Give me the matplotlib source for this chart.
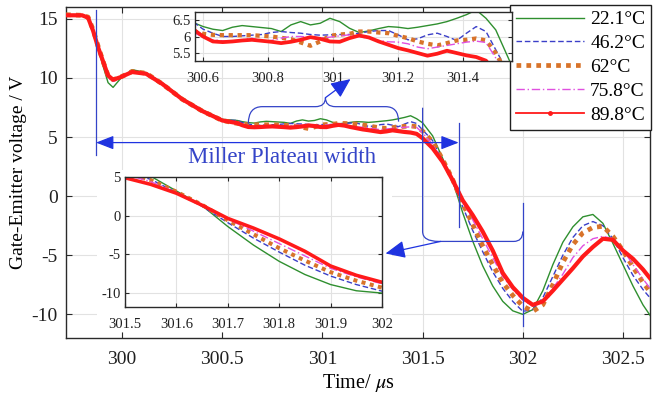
import matplotlib
matplotlib.use("Agg")
import matplotlib.pyplot as plt
from matplotlib.lines import Line2D
from matplotlib.patches import Rectangle, FancyArrowPatch, PathPatch
from matplotlib.path import Path

plt.rcParams['font.family'] = ['Liberation Serif', 'DejaVu Serif']
plt.rcParams['mathtext.fontset'] = 'stix'
plt.rcParams['axes.unicode_minus'] = False

# ---------------- data ----------------
time_us = [299.72, 299.80, 299.83, 299.855, 299.88, 299.905, 299.93, 299.955, 299.99, 300.05,
           300.12, 300.2, 300.3, 300.4, 300.5, 300.575, 300.6, 300.63, 300.66, 300.69,
           300.72, 300.75, 300.78, 300.81, 300.84, 300.87, 300.9, 300.93, 300.96, 300.99,
           301.02, 301.05, 301.08, 301.11, 301.14, 301.17, 301.2, 301.23, 301.26, 301.29,
           301.32, 301.35, 301.38, 301.41, 301.44, 301.47, 301.5, 301.55, 301.6, 301.65,
           301.7, 301.75, 301.8, 301.85, 301.9, 301.95, 302.0, 302.05, 302.1, 302.15,
           302.2, 302.25, 302.3, 302.35, 302.4, 302.45, 302.5, 302.55, 302.6, 302.64]

vge_22_1 = [15.3, 15.3, 15.1, 14.0, 12.5, 11.0, 9.6, 9.2, 9.9, 10.7,
            10.45, 9.6, 8.3, 7.3, 6.5, 6.4, 6.3, 6.22, 6.18, 6.28,
            6.33, 6.3, 6.27, 6.24, 6.15, 6.35, 6.45, 6.35, 6.4, 6.55,
            6.45, 6.25, 6.12, 6.17, 6.24, 6.3, 6.28, 6.24, 6.28, 6.33,
            6.38, 6.45, 6.55, 6.66, 6.8, 6.55, 6.2, 5.1, 3.2, 1.3,
            -1.4, -3.8, -5.9, -7.6, -8.9, -9.7, -10.0, -9.6, -8.0, -5.8,
            -3.9, -2.6, -1.75, -1.55, -2.3, -4.0, -5.8, -7.6, -9.2, -10.2]

vge_46_2 = [15.3, 15.3, 15.1, 14.0, 12.6, 11.3, 10.1, 9.75, 10.0, 10.6,
            10.4, 9.55, 8.25, 7.25, 6.45, 6.4, 6.22, 6.1, 6.0, 6.0,
            6.02, 6.04, 6.06, 6.12, 6.15, 6.12, 6.1, 6.06, 6.04, 6.05,
            6.06, 6.06, 6.1, 6.15, 6.18, 6.18, 6.05, 5.9, 5.93, 6.05,
            6.1, 6.0, 5.88, 6.1, 6.3, 6.15, 5.6, 4.7, 3.0, 1.2,
            -0.9, -2.9, -4.7, -6.4, -7.8, -8.9, -9.75, -9.6, -8.6, -6.8,
            -5.0, -3.5, -2.5, -2.15, -2.5, -3.6, -5.2, -6.7, -7.9, -8.7]

vge_62 = [15.35, 15.3, 15.15, 14.1, 12.7, 11.4, 10.2, 9.85, 10.05, 10.55,
          10.4, 9.5, 8.2, 7.2, 6.4, 6.15, 6.08, 6.05, 6.04, 6.04,
          6.04, 6.04, 6.02, 6.0, 5.96, 5.92, 5.82, 5.72, 5.85, 6.02,
          6.06, 6.08, 6.15, 6.15, 6.12, 6.1, 6.02, 5.95, 5.85, 5.78,
          5.73, 5.8, 5.88, 5.9, 5.94, 5.88, 5.5, 4.6, 3.1, 1.4,
          -0.6, -2.4, -4.2, -5.8, -7.3, -8.4, -9.3, -9.75, -9.2, -7.5,
          -5.6, -4.1, -3.1, -2.65, -2.55, -3.4, -4.6, -6.0, -7.3, -8.2]

vge_75_8 = [15.3, 15.3, 15.1, 14.0, 12.6, 11.3, 10.0, 9.7, 10.0, 10.5,
            10.35, 9.5, 8.2, 7.2, 6.4, 6.1, 5.98, 5.9, 5.87, 5.85,
            5.9, 5.95, 5.86, 5.88, 5.95, 6.0, 6.0, 5.98, 5.96, 5.98,
            6.02, 6.05, 6.0, 5.94, 5.88, 5.84, 5.83, 5.78, 5.68, 5.63,
            5.68, 5.73, 5.78, 5.83, 5.86, 5.82, 5.35, 4.4, 3.0, 1.4,
            -0.45, -2.0, -3.6, -5.2, -6.8, -7.9, -8.8, -9.3, -9.0, -7.8,
            -6.6, -5.2, -4.2, -3.6, -3.4, -3.6, -4.5, -5.8, -7.0, -7.9]

vge_89_8 = [15.3, 15.3, 15.1, 14.0, 12.6, 11.4, 10.2, 9.85, 10.05, 10.5,
            10.35, 9.5, 8.2, 7.2, 6.4, 6.18, 6.0, 5.85, 5.83, 5.85,
            5.88, 5.9, 5.87, 5.84, 5.8, 5.84, 5.9, 5.98, 5.93, 5.85,
            5.84, 5.95, 6.03, 5.97, 5.85, 5.75, 5.65, 5.58, 5.5, 5.42,
            5.48, 5.57, 5.5, 5.43, 5.38, 5.27, 4.9, 4.05, 2.9, 1.35,
            -0.35, -1.6, -3.0, -4.6, -6.5, -7.7, -8.6, -9.2, -8.9, -8.0,
            -7.05, -6.1, -5.1, -4.3, -3.6, -3.7, -4.6, -5.3, -6.2, -7.05]

labels = ['22.1°C', '46.2°C', '62°C', '75.8°C', '89.8°C']
series = [vge_22_1, vge_46_2, vge_62, vge_75_8, vge_89_8]

main_xticks = [300, 300.5, 301, 301.5, 302, 302.5]
main_xticklabels = ['300', '300.5', '301', '301.5', '302', '302.5']
main_yticks = [-10, -5, 0, 5, 10, 15]
main_yticklabels = ['-10', '-5', '0', '5', '10', '15']

in1_xticks = [300.6, 300.8, 301, 301.2, 301.4]
in1_xticklabels = ['300.6', '300.8', '301', '301.2', '301.4']
in1_yticks = [5.5, 6, 6.5]
in1_yticklabels = ['5.5', '6', '6.5']

in2_xticks = [301.5, 301.6, 301.7, 301.8, 301.9, 302]
in2_xticklabels = ['301.5', '301.6', '301.7', '301.8', '301.9', '302']
in2_yticks = [-10, -5, 0, 5]
in2_yticklabels = ['-10', '-5', '0', '5']

# ---------------- styles ----------------
styles = [
    dict(color='#2f8f2f', lw=1.0, ls='-'),
    dict(color='#3b3fc8', lw=1.0, ls=(0, (4, 2))),
    dict(color='#d8732a', lw=3.4, ls=(0, (1, 1.1)), dash_capstyle='butt'),
    dict(color='#e050e0', lw=1.0, ls=(0, (6, 2, 1, 2))),
    dict(color='#ff1a1a', lw=3.0, ls='-'),
]
ANN = '#3444c8'
HEAD = '#1f33e0'

W, H = 658, 400
fig = plt.figure(figsize=(W / 100, H / 100), dpi=100)


def fpos(x0, y0, x1, y1):
    return [x0 / W, 1 - y1 / H, (x1 - x0) / W, (y1 - y0) / H]


def style_axes(ax, fs, pad, length):
    for sp in ax.spines.values():
        sp.set_color('#2a2a2a')
        sp.set_linewidth(1.0)
    ax.tick_params(direction='in', length=length, width=0.8, colors='#2a2a2a',
                   labelsize=fs, pad=pad, top=True, right=True, labelcolor='#202020')
    ax.grid(True, color='#e2e2e2', lw=0.8)
    ax.set_axisbelow(True)


# main axes
ax = fig.add_axes(fpos(66, 7, 650, 338))
for v, st in zip(series, styles):
    ax.plot(time_us, v, **st, zorder=3)
ax.set_xlim(299.72, 302.635)
ax.set_ylim(-12, 16)
ax.set_xticks(main_xticks)
ax.set_xticklabels(main_xticklabels)
ax.set_yticks(main_yticks)
ax.set_yticklabels(main_yticklabels)
style_axes(ax, 14, 6, 4)
ax.tick_params(axis='x', pad=9)
ax.set_xlabel('Time/ $\\mu$s', fontsize=14.5, labelpad=3)
ax.set_ylabel('Gate-Emitter voltage / V', fontsize=14, labelpad=3)

# white background behind inset 2 and its labels
ax.add_artist(Rectangle((97 / W, 1 - 332 / H), (392 - 97) / W, (332 - 170) / H,
                        transform=fig.transFigure, facecolor='white', edgecolor='none', zorder=1))

handles = [Line2D([], [], color=styles[0]['color'], lw=1.0),
           Line2D([], [], color=styles[1]['color'], lw=1.0, ls=(0, (4, 2))),
           Line2D([], [], color=styles[2]['color'], lw=3.4, ls=(0, (1, 1.1)), dash_capstyle='butt'),
           Line2D([], [], color=styles[3]['color'], lw=1.0, ls=(0, (6, 2, 1, 2))),
           Line2D([], [], color=styles[4]['color'], lw=1.3, marker='o', markersize=2.5)]
leg = ax.legend(handles, labels, loc='upper right', bbox_to_anchor=(1.002, 1.006),
                borderaxespad=0, fontsize=14, frameon=True, fancybox=False,
                framealpha=1, edgecolor='#202020', handlelength=3.5, handletextpad=0.3,
                labelspacing=0.32, borderpad=0.3, numpoints=1)
leg.get_frame().set_linewidth(1.0)
leg.set_zorder(10)

# inset 1: plateau
in1 = fig.add_axes(fpos(195, 12, 512, 61), zorder=4)
for v, st in zip(series, styles):
    s = dict(st)
    if s['lw'] > 2:
        s['lw'] = s['lw'] * 0.9
    in1.plot(time_us, v, **s)
in1.set_xlim(300.575, 301.55)
in1.set_ylim(5.26, 6.74)
in1.set_xticks(in1_xticks)
in1.set_xticklabels(in1_xticklabels)
in1.set_yticks(in1_yticks)
in1.set_yticklabels(in1_yticklabels)
style_axes(in1, 10.5, 3, 3)
in1.tick_params(top=False, right=True)
in1.tick_params(axis='x', pad=8)

# inset 2: falling edge
in2 = fig.add_axes(fpos(125, 177, 382, 307), zorder=4)
for v, st in zip(series, styles):
    s = dict(st)
    if s['lw'] > 2:
        s['lw'] = s['lw'] * 0.85
    in2.plot(time_us, v, **s)
in2.set_xlim(301.5, 302.0)
in2.set_ylim(-11.8, 5.0)
in2.set_xticks(in2_xticks)
in2.set_xticklabels(in2_xticklabels)
in2.set_yticks(in2_yticks)
in2.set_yticklabels(in2_yticklabels)
style_axes(in2, 10.5, 3, 3)
in2.tick_params(axis='x', pad=8)

# overlay for annotations (same data coords as main axes)
ov = fig.add_axes(ax.get_position().bounds, zorder=5)
ov.set_xlim(ax.get_xlim())
ov.set_ylim(ax.get_ylim())
ov.axis('off')
ov.patch.set_visible(False)

lw_a = 0.9
ov.plot([299.87, 299.87], [15.76, 3.51], color=ANN, lw=lw_a)
ov.plot([301.68, 301.68], [6.22, -2.57], color=ANN, lw=lw_a)
ov.add_patch(FancyArrowPatch((299.87, 4.53), (301.68, 4.53), arrowstyle='<|-|>,head_length=0.9,head_width=0.35',
                             mutation_scale=12, color=HEAD, lw=lw_a, shrinkA=0, shrinkB=0))
ov.text(300.8, 3.3, 'Miller Plateau width', color=ANN, fontsize=16.5, ha='center', va='center')

# brace over plateau
brace = Path([(300.63, 6.13), (300.63, 7.57), (300.70, 7.57),
              (300.965, 7.57),
              (301.015, 7.57), (301.015, 8.33),
              (301.015, 7.57), (301.065, 7.57),
              (301.315, 7.57),
              (301.38, 7.57), (301.38, 6.3)],
             [Path.MOVETO, Path.CURVE3, Path.CURVE3, Path.LINETO, Path.CURVE3, Path.CURVE3,
              Path.CURVE3, Path.CURVE3, Path.LINETO, Path.CURVE3, Path.CURVE3])
ov.add_patch(PathPatch(brace, facecolor='none', edgecolor=ANN, lw=lw_a))
ov.add_patch(FancyArrowPatch((301.015, 8.33), (301.14, 9.9), arrowstyle='-|>,head_length=1.0,head_width=0.45',
                             mutation_scale=12, color=HEAD, lw=lw_a, shrinkA=0, shrinkB=0))

# bracket around falling edge
br2 = Path([(301.5, 7.48), (301.5, -2.99), (301.5, -3.83), (301.58, -3.83),
            (301.955, -3.83), (302.0, -3.83), (302.0, -2.99)],
           [Path.MOVETO, Path.LINETO, Path.CURVE3, Path.CURVE3, Path.LINETO, Path.CURVE3, Path.CURVE3])
ov.add_patch(PathPatch(br2, facecolor='none', edgecolor=ANN, lw=lw_a))
ov.plot([302.0, 302.0], [-0.54, -11.0], color=ANN, lw=lw_a)
ov.add_patch(FancyArrowPatch((301.59, -3.83), (301.315, -4.85), arrowstyle='-|>,head_length=1.0,head_width=0.45',
                             mutation_scale=12, color=HEAD, lw=lw_a, shrinkA=0, shrinkB=0))

fig.savefig('out.png', dpi=100)
